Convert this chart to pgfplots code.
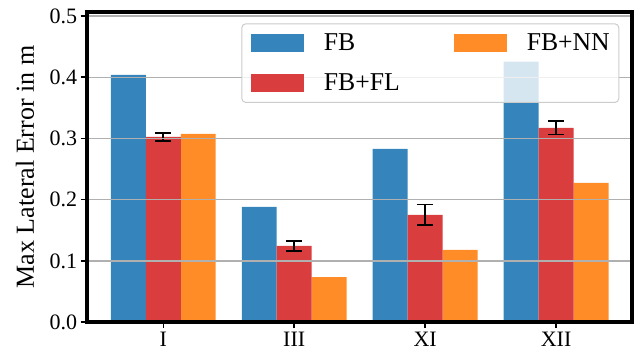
\documentclass[border=0pt]{standalone}
\usepackage{fontspec}
\setmainfont{Liberation Serif}
\usepackage{pgfplots}
\pgfplotsset{compat=1.18}
\definecolor{cfb}{HTML}{3585BC}
\definecolor{cfl}{HTML}{DA3D3E}
\definecolor{cnn}{HTML}{FF8C26}
\definecolor{cgrid}{HTML}{B0B0B0}
\pgfplotsset{
  mylegend/.style={legend image code/.code={\fill[##1, sharp corners, fill opacity=1] (0pt,-9pt) rectangle (53pt,9pt);}},
}
\begin{document}
\begin{tikzpicture}
\begin{axis}[name=ax,
  scale only axis, width=545.3pt, height=310.5pt,
  xmin=-0.585, xmax=3.58, ymin=0, ymax=0.507,
  xtick={0,1,2,3}, xticklabels={I,III,XI,XII},
  ytick={0,0.1,0.2,0.3,0.4,0.5},
  yticklabel style={/pgf/number format/.cd, fixed, fixed zerofill, precision=1, assume math mode=true},
  tick label style={font=\fontsize{22}{26}\selectfont},
  xtick pos=left, ytick pos=left, tick align=outside,
  major tick length=6pt,
  tick style={line width=1.5pt, black},
  axis line style={line width=4pt, black},
  axis on top,
  ymajorgrids, major grid style={cgrid, line width=1.4pt},
  ylabel={Max Lateral Error in m},
  every axis y label/.style={at={(axis description cs:0,0.5)}, rotate=90, anchor=center, yshift=61.7pt, font=\fontsize{26}{30}\selectfont},
  legend columns=2,
  legend style={at={(1,1)}, anchor=north east, xshift=-12.7pt, yshift=-11.6pt,
    draw=black!20, line width=1pt, rounded corners=4pt, fill=white, fill opacity=0.8, text opacity=1,
    inner xsep=9pt, inner ysep=10pt,
    font=\fontsize{25.7}{30}\selectfont,
    nodes={inner sep=0pt, anchor=west},
    row sep=22pt,
    /tikz/every odd column/.style={column sep=20pt},
    /tikz/every even column/.style={column sep=54pt},
  },
]
\addplot[ybar, bar width=0.267, bar shift=-0.267, fill=cfb, draw=none, mylegend]
  coordinates {(0,0.404) (1,0.1883) (2,0.2831) (3,0.4253)};
\addlegendentry{FB}
\addplot[ybar, bar width=0.267, bar shift=0.267, fill=cnn, draw=none, mylegend]
  coordinates {(0,0.3076) (1,0.0738) (2,0.118) (3,0.2275)};
\addlegendentry{FB+NN}
\addplot[ybar, bar width=0.267, bar shift=0, fill=cfl, draw=none, mylegend,
  error bars/.cd, y dir=both, y explicit,
  error bar style={black, line width=1.8pt},
  error mark options={black, line width=1.8pt, rotate=90, mark size=8pt}]
  coordinates {(0,0.3025) +- (0,0.0065) (1,0.1245) +- (0,0.0079) (2,0.1752) +- (0,0.017) (3,0.3174) +- (0,0.011)};
\addlegendentry{FB+FL}
\end{axis}
\pgfresetboundingbox
\useasboundingbox ([shift={(-86.7pt,-29.8pt)}]ax.south west) rectangle ([shift={(10pt,11.7pt)}]ax.north east);
\end{tikzpicture}
\end{document}
